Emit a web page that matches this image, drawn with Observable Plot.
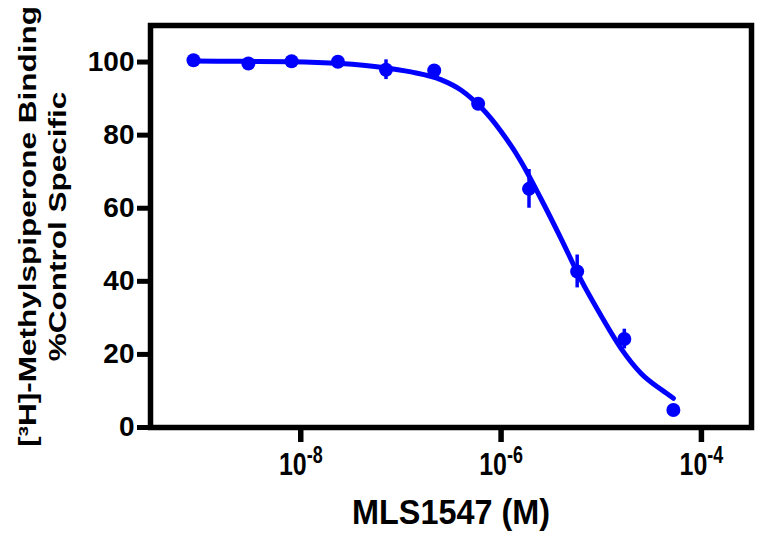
<!DOCTYPE html>
<html>
<head>
<meta charset="utf-8">
<script src="https://cdn.jsdelivr.net/npm/d3@7"></script>
<script src="https://cdn.jsdelivr.net/npm/@observablehq/plot@0.6"></script>
<style>
  html, body { margin: 0; padding: 0; background: #fff; }
  #chart svg { display: block; }
</style>
</head>
<body>
<div id="chart"></div>
<script>
// ---- Data ----
// Measured points: concentration (M), % control specific binding, error (±)
const concM   = [8.5e-10, 3.0e-9, 8.1e-9, 2.35e-8, 7.1e-8, 2.15e-7, 5.9e-7, 1.9e-6, 5.75e-6, 1.7e-5, 5.25e-5];
const binding = [100.5,   99.6,   100.2,  100.1,   97.9,   97.7,    88.6,   65.3,   42.7,    24.2,   4.8];
const errBar  = [0,       0,      0,      0,       2.7,    1.2,     0.8,    5.3,    4.5,     2.7,    0];

// Fitted curve
const fitConcM   = [8.5e-10, 2.5e-9, 7.9e-9, 2.5e-8, 6.3e-8, 1.26e-7, 2.5e-7, 4.0e-7, 6.3e-7, 1.0e-6, 1.58e-6, 2.5e-6, 4.0e-6, 6.3e-6, 1.0e-5, 1.58e-5, 2.5e-5, 4.0e-5, 5.25e-5];
const fitBinding = [100.3,   100.2,  100.1,  99.6,   98.6,   97.3,    95.2,   92.3,   87.6,   81.0,   72.8,    62.6,   51.5,   40.3,   30.5,   21.6,    14.8,   10.3,   8.0];

// Axes
const xTicks = [1e-8, 1e-6, 1e-4];
const yTicks = [0, 20, 40, 60, 80, 100];
const xTitle = "MLS1547 (M)";
const yTitleLines = ["[³H]-Methylspiperone Binding", "%Control Specific"];

// ---- Build ----
const blue = "#0000ff";
const font = "'Liberation Sans', Arial, Helvetica, sans-serif";
const sup = {"-":"⁻","0":"⁰","1":"¹","2":"²","3":"³","4":"⁴","5":"⁵","6":"⁶","7":"⁷","8":"⁸","9":"⁹"};
const unsup = Object.fromEntries(Object.entries(sup).map(([k, v]) => [v, k]));

const points = concM.map((c, i) => ({c, v: binding[i], e: errBar[i]}));
const fit = fitConcM.map((c, i) => ({c, v: fitBinding[i]}));

const chart = Plot.plot({
  width: 757,
  height: 536,
  marginLeft: 150,
  marginRight: 6,
  marginTop: 25,
  marginBottom: 109,
  style: {fontFamily: font, fontWeight: "bold", background: "#fff", color: "#000"},
  x: {type: "log", domain: [Math.pow(10, -9.5), Math.pow(10, -3.5)]},
  y: {domain: [0, 110]},
  marks: [
    Plot.line(fit, {x: "c", y: "v", stroke: blue, strokeWidth: 5, curve: "monotone-x"}),
    Plot.ruleX(points.filter(d => d.e > 0), {x: "c", y1: d => d.v - d.e, y2: d => d.v + d.e, stroke: blue, strokeWidth: 3.5}),
    Plot.dot(points, {x: "c", y: "v", r: 7, fill: blue, stroke: "none"}),
    Plot.frame({stroke: "#000", strokeWidth: 5.5}),
    Plot.axisY({
      ticks: yTicks, tickSize: 13, tickPadding: 3, strokeWidth: 5,
      fontSize: 28, fontWeight: "bold", label: null
    }),
    Plot.axisX({
      ticks: xTicks, tickSize: 15, tickPadding: 10, strokeWidth: 5.5,
      fontSize: 32, fontWeight: "bold", label: null,
      tickFormat: d => "10" + String(Math.round(Math.log10(d))).split("").map(ch => sup[ch]).join("")
    }),
    Plot.text([xTitle], {frameAnchor: "bottom", dy: 96, text: d => d, fontSize: 36, fontWeight: "bold", textAnchor: "middle"}),
    Plot.text([yTitleLines[0]], {frameAnchor: "left", dx: -122, rotate: -90, text: d => d, fontSize: 31.5, fontWeight: "bold", textAnchor: "middle"}),
    Plot.text([yTitleLines[1]], {frameAnchor: "left", dx: -92, rotate: -90, text: d => d, fontSize: 31.5, fontWeight: "bold", textAnchor: "middle"})
  ]
});

document.getElementById("chart").appendChild(chart);

// Post-process: proper superscripts for x tick labels, narrow glyphs like the reference
const ns = "http://www.w3.org/2000/svg";
function squeeze(t, sx, sy) {
  const tr = t.getAttribute("transform") || "";
  if (tr.includes("translate")) t.setAttribute("transform", tr + ` scale(${sx},${sy})`);
}
chart.querySelectorAll("text").forEach(t => {
  const s = t.textContent;
  const m = s.match(/^10([⁻⁰¹²³⁴⁵⁶⁷⁸⁹]+)$/);
  if (m) {
    const exp = [...m[1]].map(c => unsup[c]).join("");
    while (t.firstChild) t.removeChild(t.firstChild);
    const base = document.createElementNS(ns, "tspan");
    base.textContent = "10";
    const e = document.createElementNS(ns, "tspan");
    e.textContent = exp;
    e.setAttribute("font-size", "23");
    e.setAttribute("dy", "-12");
    t.appendChild(base);
    t.appendChild(e);
    squeeze(t, 0.78, 1);
  } else if (yTitleLines.includes(s)) {
    squeeze(t, 1, 0.75);
  } else if (s === xTitle) {
    squeeze(t, 0.9, 1);
  }
});
</script>
</body>
</html>
